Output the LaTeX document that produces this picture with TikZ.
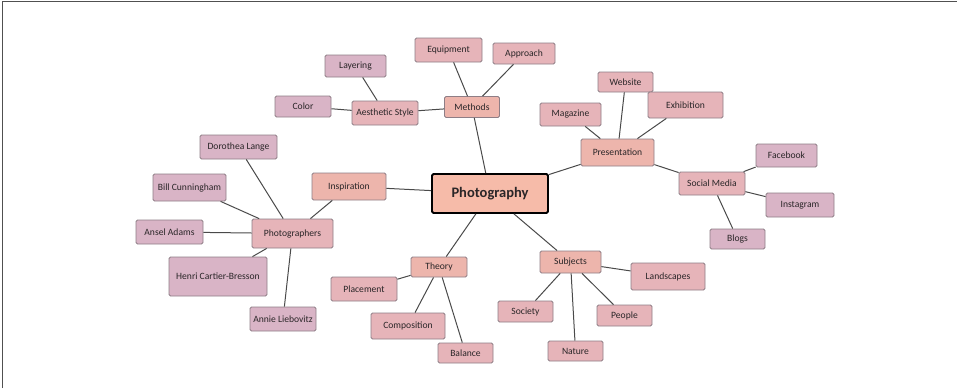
\documentclass[tikz,border=0pt]{standalone}
\usepackage{fontspec}
\setmainfont{Carlito}
\definecolor{rootfill}{HTML}{F6BBA9}
\definecolor{fillA}{HTML}{EDB5AC}
\definecolor{fillB}{HTML}{E6B4B9}
\definecolor{fillC}{HTML}{D9B4C6}
\definecolor{boxline}{HTML}{8E7E86}
\definecolor{wire}{HTML}{4A4A4A}
\definecolor{txt}{HTML}{2A2628}
\definecolor{frame}{HTML}{505050}
\begin{document}
\begin{tikzpicture}[x=1pt,y=-1pt,
  box/.style={draw=boxline, line width=0.8pt, rounded corners=1.5pt, inner sep=0pt,
    font=\fontsize{9.6}{11}\selectfont, text=txt},
  lvlA/.style={box, fill=fillA},
  lvlB/.style={box, fill=fillB},
  lvlC/.style={box, fill=fillC},
  rootbox/.style={draw=black, line width=1.8pt, rounded corners=1.5pt, fill=rootfill,
    inner sep=0pt, font=\fontsize{14.5}{16}\selectfont\bfseries, text=txt},
  sz/.style 2 args={minimum width=#1pt, minimum height=#2pt},
  link/.style={draw=wire, line width=1pt}]
\useasboundingbox (0,0) rectangle (957,388);
% page frame (top and left edges)
\draw[frame, line width=1.3pt] (2.5,388) -- (2.5,1.5) -- (957,1.5);

% centre
\node[rootbox, sz={116}{39}] (photo) at (490,193.5) {Photography};

% methods branch
\node[lvlA, sz={55}{21}] (methods) at (472,107) {Methods};
\node[lvlB, sz={67}{24}] (equip) at (448.5,50) {Equipment};
\node[lvlB, sz={62}{21}] (approach) at (524,53.5) {Approach};
\node[lvlB, sz={66}{24}] (aesth) at (385,113) {Aesthetic Style};
\node[lvlC, sz={61}{22}] (layer) at (355.5,66) {Layering};
\node[lvlC, sz={56}{21}] (color) at (303,106.5) {Color};

% presentation branch
\node[lvlA, sz={73}{27}] (pres) at (617.5,152.5) {Presentation};
\node[lvlB, sz={61}{23}] (mag) at (570.5,114.5) {Magazine};
\node[lvlB, sz={55}{20}] (web) at (625.5,82) {Website};
\node[lvlB, sz={75}{26}] (exhib) at (685.5,105) {Exhibition};
\node[lvlB, sz={66}{23}] (social) at (712,183.5) {Social Media};
\node[lvlC, sz={61}{23}] (fb) at (786.5,155.5) {Facebook};
\node[lvlC, sz={68}{24}] (insta) at (800,205) {Instagram};
\node[lvlC, sz={55}{20}] (blogs) at (737.5,239) {Blogs};

% inspiration branch
\node[lvlA, sz={74}{27}] (insp) at (349,186.5) {Inspiration};
\node[lvlB, sz={81}{29}] (phgr) at (292.5,233.5) {Photographers};
\node[lvlC, sz={77}{24}] (lange) at (238.5,147) {Dorothea Lange};
\node[lvlC, sz={73}{27}] (bill) at (189.5,187.5) {Bill Cunningham};
\node[lvlC, sz={67}{24}] (ansel) at (169.5,232) {Ansel Adams};
\node[lvlC, sz={98}{39}] (henri) at (218,276.5) {Henri Cartier-Bresson};
\node[lvlC, sz={66}{24}] (annie) at (283,319) {Annie Liebovitz};

% theory branch
\node[lvlA, sz={56}{20}] (theory) at (439,267) {Theory};
\node[lvlB, sz={66}{24}] (place) at (364,289) {Placement};
\node[lvlB, sz={74}{26}] (comp) at (408,326) {Composition};
\node[lvlB, sz={55}{20}] (bal) at (465.5,353) {Balance};

% subjects branch
\node[lvlA, sz={61}{22}] (subj) at (570.5,262) {Subjects};
\node[lvlB, sz={74}{27}] (land) at (668,276.5) {Landscapes};
\node[lvlB, sz={55}{21}] (soc) at (525.5,311.5) {Society};
\node[lvlB, sz={55}{21}] (people) at (624.5,315.5) {People};
\node[lvlB, sz={55}{20}] (nature) at (575.5,351) {Nature};

% connectors
\draw[link] (photo) -- (methods);
\draw[link] (photo) -- (pres);
\draw[link] (photo) -- (insp);
\draw[link] (photo) -- (theory);
\draw[link] (photo) -- (subj);

\draw[link] (methods) -- (equip);
\draw[link] (methods) -- (approach);
\draw[link] (methods) -- (aesth);
\draw[link] (aesth) -- (layer);
\draw[link] (aesth) -- (color);

\draw[link] (pres) -- (mag);
\draw[link] (pres) -- (web);
\draw[link] (pres) -- (exhib);
\draw[link] (pres) -- (social);
\draw[link] (social) -- (fb);
\draw[link] (social) -- (insta);
\draw[link] (social) -- (blogs);

\draw[link] (insp) -- (phgr);
\draw[link] (phgr) -- (lange);
\draw[link] (phgr) -- (bill);
\draw[link] (phgr) -- (ansel);
\draw[link] (phgr) -- (henri);
\draw[link] (phgr) -- (annie);

\draw[link] (theory) -- (place);
\draw[link] (theory) -- (comp);
\draw[link] (theory) -- (bal);

\draw[link] (subj) -- (land);
\draw[link] (subj) -- (soc);
\draw[link] (subj) -- (people);
\draw[link] (subj) -- (nature);
\end{tikzpicture}
\end{document}
